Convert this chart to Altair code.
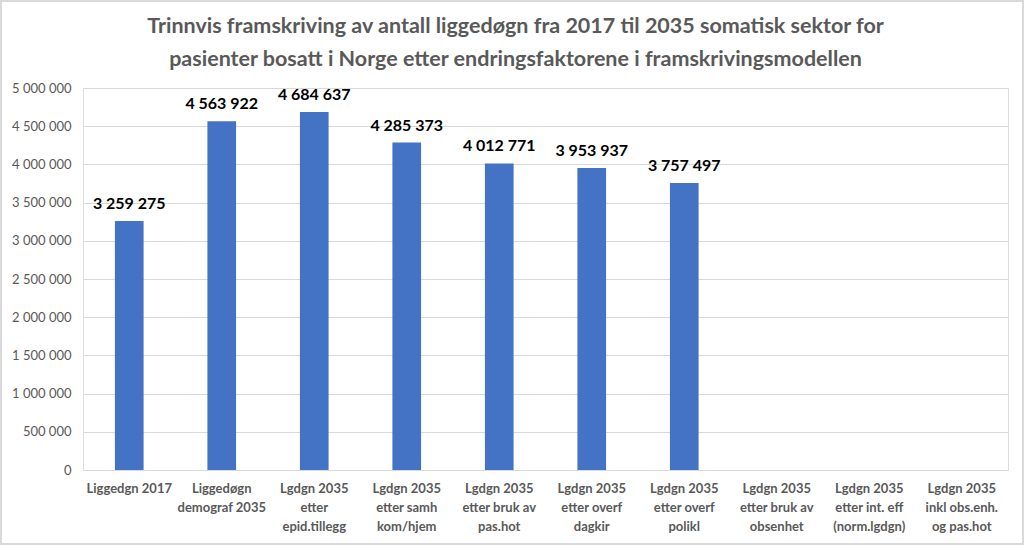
import altair as alt
import pandas as pd

categories = [
    "Liggedgn 2017",
    "Liggedøgn|demograf 2035",
    "Lgdgn 2035|etter|epid.tillegg",
    "Lgdgn 2035|etter samh|kom/hjem",
    "Lgdgn 2035|etter bruk av|pas.hot",
    "Lgdgn 2035|etter overf|dagkir",
    "Lgdgn 2035|etter overf|polikl",
    "Lgdgn 2035|etter bruk av|obsenhet",
    "Lgdgn 2035|etter int. eff|(norm.lgdgn)",
    "Lgdgn 2035|inkl obs.enh.|og pas.hot",
]
values = [3259275, 4563922, 4684637, 4285373, 4012771, 3953937, 3757497, None, None, None]
y_ticks = [0, 500000, 1000000, 1500000, 2000000, 2500000, 3000000, 3500000, 4000000, 4500000, 5000000]

df = pd.DataFrame({"kategori": categories, "verdi": values})

FONT = "Lato"
GREY = "#595959"
fmt_expr = "replace(replace(format({v}, ','), ',', ' '), ',', ' ')"

x = alt.X(
    "kategori:N",
    sort=categories,
    title=None,
    axis=alt.Axis(
        labelExpr="split(datum.label, '|')",
        labelAngle=0,
        labelFont=FONT,
        labelFontSize=13,
        labelFontWeight="bold",
        labelColor=GREY,
        labelLineHeight=19,
        labelPadding=12,
        ticks=False,
        domainColor="#d9d9d9",
        domainWidth=1,
        labelLimit=200,
        labelOverlap=False,
    ),
    scale=alt.Scale(paddingInner=0.69, paddingOuter=0.345),
)

y = alt.Y(
    "verdi:Q",
    title=None,
    scale=alt.Scale(domain=[0, 5000000], nice=False),
    axis=alt.Axis(
        values=y_ticks,
        tickCount=11,
        labelExpr=fmt_expr.format(v="datum.value"),
        labelFont=FONT,
        labelFontSize=13,
        labelColor=GREY,
        labelPadding=12,
        labelOverlap=False,
        labelBound=False,
        ticks=False,
        domain=False,
        gridColor="#d9d9d9",
        gridWidth=1,
    ),
)

bars = alt.Chart(df).mark_bar(color="#4472C4").encode(x=x, y=y)

text = (
    alt.Chart(df)
    .transform_filter("isValid(datum.verdi)")
    .transform_calculate(lbl=fmt_expr.format(v="datum.verdi"))
    .mark_text(font=FONT, fontSize=16, fontWeight="bold", color="black", baseline="bottom", dy=-9)
    .encode(x=x, y=y, text="lbl:N")
)

border = alt.Chart(df).mark_rect(fill=None, stroke="#d9d9d9", strokeWidth=1.5).encode(
    x=alt.value(-82), x2=alt.value(925 + 15), y=alt.value(-87), y2=alt.value(382 + 74)
)

chart = (
    alt.layer(bars, text, border)
    .properties(
        width=925,
        height=382,
        autosize=alt.AutoSizeParams(type="none"),
        padding={"left": 83, "top": 88, "right": 16, "bottom": 75},
        title=alt.TitleParams(
            text=[
                "Trinnvis framskriving av antall liggedøgn fra 2017 til 2035 somatisk sektor for",
                "pasienter bosatt i Norge etter endringsfaktorene i framskrivingsmodellen",
            ],
            font=FONT,
            fontSize=21.5,
            fontWeight="bold",
            color=GREY,
            lineHeight=33,
            anchor="middle",
            dx=-30,
            offset=-70,
        ),
    )
    .configure_view(stroke=None)
    .configure(background="white")
)

chart.save("out.html", embed_options={"renderer": "svg", "actions": False})
